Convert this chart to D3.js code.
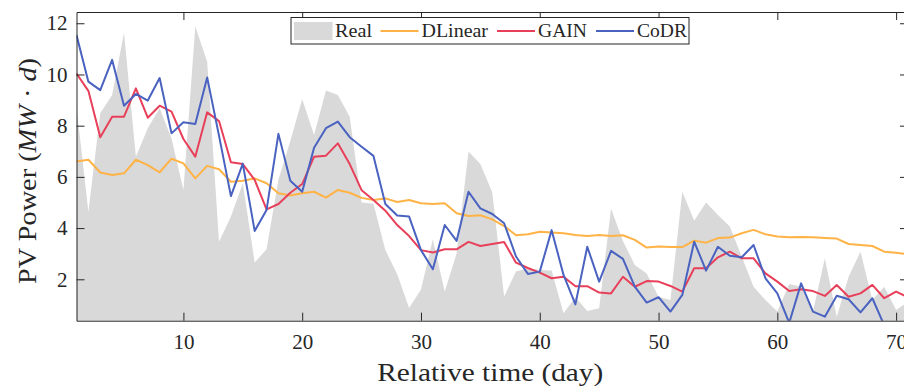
<!DOCTYPE html>
<html>
<head>
<meta charset="utf-8">
<script src="https://cdn.jsdelivr.net/npm/d3@7"></script>
<style>
  html, body { margin: 0; padding: 0; background: #fff; }
  svg { display: block; }
  text { font-family: "Liberation Serif", "DejaVu Serif", serif; fill: #262626; }
</style>
</head>
<body>
<svg id="chart" width="904" height="386"></svg>
<script>
// values, one per day (day 1..71)
const real = [8.74, 4.64, 8.49, 9.20, 11.63, 6.79, 7.90, 8.68, 7.5, 5.49,
  11.87, 10.50, 3.47, 4.45, 5.75, 2.66, 3.17, 5.9, 7.4, 9.03,
  7.64, 9.37, 9.2, 8.35, 5.0, 4.95, 3.14, 2.2, 0.88, 1.6,
  3.56, 1.52, 3.01, 6.99, 6.5, 5.4, 1.33, 2.3, 2.43, 2.36,
  2.34, 0.67, 1.30, 0.76, 0.87, 4.77, 3.5, 2.56, 2.23, 1.32,
  1.19, 5.42, 4.29, 5.0, 4.51, 4.06, 2.89, 1.71, 1.19, 0.74,
  1.82, 1.71, 0.74, 2.82, 0.54, 2.1, 3.08, 1.19, 1.71, 0.80, 1.13];

const dlinear = [6.60, 6.67, 6.17, 6.07, 6.14, 6.67, 6.46, 6.18, 6.71, 6.53,
  5.94, 6.43, 6.30, 5.81, 5.85, 5.94, 5.75, 5.36, 5.27, 5.36,
  5.42, 5.19, 5.49, 5.38, 5.18, 5.10, 5.16, 5.02, 5.10, 4.97,
  4.94, 4.97, 4.58, 4.47, 4.50, 4.34, 4.08, 3.72, 3.76, 3.86,
  3.83, 3.80, 3.73, 3.69, 3.73, 3.69, 3.72, 3.54, 3.24, 3.28,
  3.26, 3.26, 3.51, 3.43, 3.61, 3.63, 3.80, 3.93, 3.76, 3.67,
  3.64, 3.65, 3.64, 3.61, 3.59, 3.38, 3.34, 3.30, 3.08, 3.04, 2.98];

const gain = [10.04, 9.36, 7.55, 8.35, 8.35, 9.46, 8.31, 8.78, 8.55, 7.48,
  6.79, 8.52, 8.18, 6.57, 6.50, 5.88, 4.73, 4.94, 5.38, 5.72,
  6.79, 6.83, 7.31, 6.50, 5.48, 5.10, 4.68, 4.12, 3.69, 3.14,
  3.05, 3.17, 3.17, 3.46, 3.30, 3.38, 3.46, 2.65, 2.44, 2.26,
  2.04, 2.10, 1.73, 1.73, 1.48, 1.45, 2.10, 1.71, 1.93, 1.91,
  1.74, 1.52, 2.43, 2.43, 2.86, 3.08, 2.82, 2.82, 2.23, 1.91,
  1.54, 1.61, 1.54, 1.35, 1.78, 1.32, 1.45, 1.78, 1.26, 1.52, 1.30];

const codr = [11.54, 9.72, 9.39, 10.57, 8.78, 9.24, 8.98, 9.86, 7.70, 8.13,
  8.07, 9.88, 7.6, 5.25, 6.52, 3.89, 4.71, 7.68, 5.85, 5.42,
  7.14, 7.90, 8.16, 7.55, 7.18, 6.82, 4.94, 4.49, 4.45, 3.14,
  2.39, 4.12, 3.50, 5.42, 4.77, 4.55, 4.19, 2.89, 2.21, 2.30,
  3.92, 2.17, 1.02, 3.27, 1.91, 3.11, 2.80, 1.71, 1.09, 1.30,
  0.74, 1.39, 3.47, 2.34, 3.27, 2.92, 2.86, 3.34, 2.04, 1.45,
  0.3, 1.84, 0.74, 0.54, 1.36, 1.22, 0.71, 1.26, 0.2, 0.1, 0.3];

const xTicks = [10, 20, 30, 40, 50, 60, 70];
const yTicks = [2, 4, 6, 8, 10, 12];

const seriesNames = ['DLinear', 'GAIN', 'CoDR'];
const seriesColors = ['#ffb347', '#e8405a', '#4a62c0'];
const realColor = '#d9d9d9';
const axisColor = '#262626';

const svg = d3.select('#chart');

// plot box (right side of the figure is cut by the image edge)
const mLeft = 76.5, mTop = 12, mBottom = 320.7, mRight = 908;

const x = d3.scaleLinear().domain([1, 71]).range([mLeft, mRight]);
const y = d3.scaleLinear().domain([0.383, 12.44]).range([mBottom, mTop]);

const days = real.map((v, i) => i + 1);

svg.append('defs').append('clipPath').attr('id', 'plotclip')
  .append('rect').attr('x', mLeft).attr('y', mTop).attr('width', mRight - mLeft).attr('height', mBottom - mTop);

const plot = svg.append('g').attr('clip-path', 'url(#plotclip)');

// Real, grey area down to the axis floor
const area = d3.area()
  .x((d, i) => x(days[i]))
  .y0(mBottom)
  .y1(d => y(d));

plot.append('path')
  .datum(real)
  .attr('fill', realColor)
  .attr('d', area);

const line = d3.line()
  .x((d, i) => x(days[i]))
  .y(d => y(d));

[dlinear, gain, codr].forEach((s, k) => {
  plot.append('path')
    .datum(s)
    .attr('fill', 'none')
    .attr('stroke', seriesColors[k])
    .attr('stroke-width', 2)
    .attr('stroke-linejoin', 'round')
    .attr('d', line);
});

// axes, MATLAB style: ticks pointing inward, box all round
const tickLen = 8;
function styleAxis(g) {
  g.selectAll('path.domain').attr('stroke', axisColor).attr('stroke-width', 1);
  g.selectAll('.tick line').attr('stroke', axisColor).attr('stroke-width', 1);
  g.selectAll('.tick text').attr('fill', axisColor).style('font-family', '"Liberation Serif", serif').style('font-size', '21px');
}

svg.append('g')
  .attr('transform', `translate(0,${mBottom})`)
  .call(d3.axisBottom(x).tickValues(xTicks).tickSizeInner(-tickLen).tickSizeOuter(0).tickPadding(13))
  .call(styleAxis);

svg.append('g')
  .attr('transform', `translate(0,${mTop})`)
  .call(d3.axisTop(x).tickValues(xTicks).tickSizeInner(-tickLen).tickSizeOuter(0).tickFormat(''))
  .call(styleAxis);

svg.append('g')
  .attr('transform', `translate(${mLeft},0)`)
  .call(d3.axisLeft(y).tickValues(yTicks).tickSizeInner(-tickLen).tickSizeOuter(0).tickPadding(9))
  .call(styleAxis);

svg.append('g')
  .attr('transform', `translate(${mRight},0)`)
  .call(d3.axisRight(y).tickValues(yTicks).tickSizeInner(-tickLen).tickSizeOuter(0).tickFormat(''))
  .call(styleAxis);

// axis titles
svg.append('text')
  .attr('x', (mLeft + 904) / 2)
  .attr('y', 381)
  .attr('text-anchor', 'middle')
  .style('font-size', '25px')
  .attr('textLength', 226)
  .attr('lengthAdjust', 'spacingAndGlyphs')
  .text('Relative time (day)');

const yl = svg.append('text')
  .attr('transform', `translate(36,171) rotate(-90)`)
  .attr('text-anchor', 'middle')
  .attr('textLength', 226)
  .attr('lengthAdjust', 'spacingAndGlyphs')
  .style('font-size', '25px');
yl.append('tspan').text('PV Power (');
yl.append('tspan').style('font-style', 'italic').text('MW');
yl.append('tspan').text(' · ');
yl.append('tspan').style('font-style', 'italic').text('d');
yl.append('tspan').text(')');

// legend
const legend = svg.append('g');
legend.append('rect')
  .attr('x', 291).attr('y', 17.5).attr('width', 398).attr('height', 26.5)
  .attr('fill', '#fff').attr('stroke', axisColor).attr('stroke-width', 1);

legend.append('rect')
  .attr('x', 294).attr('y', 22).attr('width', 38.5).attr('height', 18)
  .attr('fill', realColor);

const legendItems = [
  { name: 'Real', tx: 335, tw: 37 },
  { name: 'DLinear', x0: 380.5, x1: 418.5, tx: 421.5, tw: 66.5, color: seriesColors[0] },
  { name: 'GAIN', x0: 497, x1: 535, tx: 538, tw: 49, color: seriesColors[1] },
  { name: 'CoDR', x0: 596, x1: 634, tx: 637, tw: 50, color: seriesColors[2] }
];

legendItems.forEach(it => {
  if (it.color) {
    legend.append('line')
      .attr('x1', it.x0).attr('x2', it.x1).attr('y1', 31).attr('y2', 31)
      .attr('stroke', it.color).attr('stroke-width', 2);
  }
  legend.append('text')
    .attr('x', it.tx).attr('y', 36.5)
    .style('font-size', '19px')
    .attr('textLength', it.tw)
    .attr('lengthAdjust', 'spacingAndGlyphs')
    .text(it.name);
});
</script>
</body>
</html>
